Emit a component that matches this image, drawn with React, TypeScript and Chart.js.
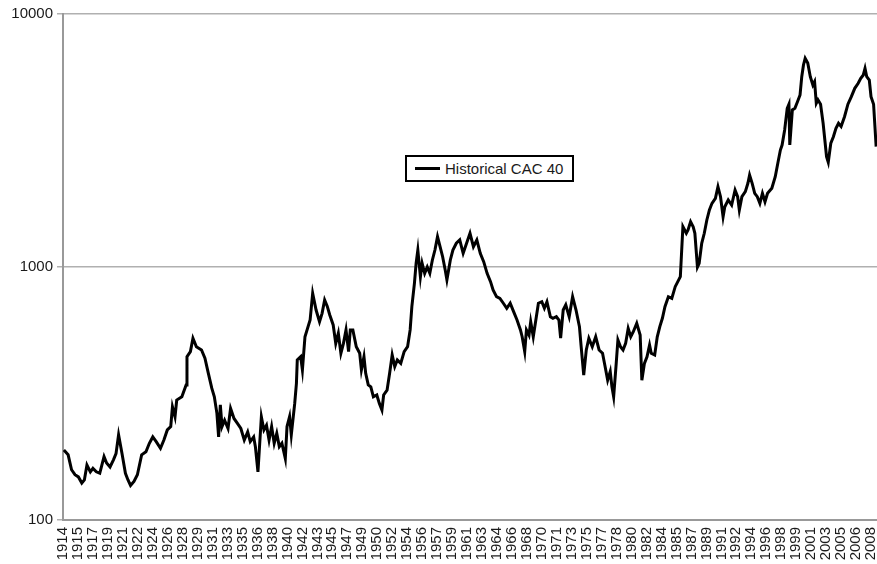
import React, { useEffect, useRef } from "react";
import { Chart, registerables } from "chart.js";

Chart.register(...registerables);

const tickLabels = [
  "1914", "1915", "1917", "1919", "1921", "1922", "1924", "1926", "1928", "1929",
  "1931", "1933", "1935", "1936", "1938", "1940", "1942", "1943", "1945", "1947",
  "1949", "1950", "1952", "1954", "1956", "1957", "1959", "1961", "1963", "1964",
  "1966", "1968", "1970", "1971", "1973", "1975", "1977", "1978", "1980", "1982",
  "1984", "1985", "1987", "1989", "1991", "1992", "1994", "1996", "1998", "1999",
  "2001", "2003", "2005", "2006", "2008",
];
const tickStart = 1914;
const tickStep = 1.75;

const yTicks = [100, 1000, 10000];

const years = [
  1914.1, 1914.6, 1915.0, 1915.4, 1915.8, 1916.2, 1916.5, 1916.8, 1917.2, 1917.5,
  1917.9, 1918.3, 1918.8, 1919.1, 1919.5, 1919.9, 1920.2, 1920.5, 1920.9, 1921.3,
  1921.6, 1921.9, 1922.3, 1922.7, 1923.2, 1923.7, 1924.1, 1924.5, 1924.9, 1925.4,
  1925.8, 1926.2, 1926.6, 1926.8, 1927.1, 1927.3, 1927.9, 1928.4, 1928.5, 1928.9,
  1929.2, 1929.6, 1930.2, 1930.6, 1931.0, 1931.4, 1931.7, 1932.0, 1932.2, 1932.4,
  1932.6, 1932.9, 1933.3, 1933.6, 1934.0, 1934.4, 1934.8, 1935.2, 1935.6, 1935.9,
  1936.3, 1936.5, 1936.8, 1937.2, 1937.5, 1937.8, 1938.1, 1938.4, 1938.7, 1939.0,
  1939.3, 1939.6, 1940.0, 1940.2, 1940.5, 1940.7, 1941.1, 1941.3, 1941.4, 1941.8,
  1942.0, 1942.3, 1942.6, 1942.9, 1943.2, 1943.6, 1944.0, 1944.3, 1944.6, 1944.9,
  1945.2, 1945.6, 1945.9, 1946.2, 1946.5, 1946.8, 1947.1, 1947.4, 1947.6, 1947.9,
  1948.3, 1948.7, 1948.9, 1949.2, 1949.4, 1949.7, 1950.0, 1950.3, 1950.7, 1951.0,
  1951.3, 1951.5, 1951.9, 1952.2, 1952.5, 1952.8, 1953.1, 1953.5, 1953.9, 1954.3,
  1954.6, 1954.8, 1955.1, 1955.3, 1955.5, 1955.8, 1956.0, 1956.3, 1956.6, 1956.9,
  1957.2, 1957.5, 1957.8, 1958.1, 1958.4, 1958.7, 1958.9, 1959.3, 1959.6, 1960.0,
  1960.4, 1960.8, 1961.2, 1961.6, 1962.0, 1962.4, 1962.8, 1963.2, 1963.6, 1964.0,
  1964.3, 1964.7, 1965.1, 1965.5, 1965.9, 1966.3, 1966.7, 1967.1, 1967.5, 1967.7,
  1968.0, 1968.2, 1968.5, 1968.7, 1969.0, 1969.3, 1969.6, 1970.0, 1970.3, 1970.6,
  1971.0, 1971.3, 1971.7, 1972.0, 1972.2, 1972.5, 1972.8, 1973.2, 1973.6, 1974.0,
  1974.4, 1974.6, 1974.9, 1975.2, 1975.5, 1975.9, 1976.3, 1976.7, 1977.1, 1977.4,
  1977.7, 1978.0, 1978.2, 1978.4, 1978.7, 1978.9, 1979.2, 1979.5, 1979.8, 1980.1,
  1980.4, 1980.7, 1981.1, 1981.5, 1981.7, 1982.0, 1982.3, 1982.6, 1982.8, 1983.2,
  1983.5, 1983.8, 1984.1, 1984.4, 1984.8, 1985.2, 1985.6, 1985.8, 1986.2, 1986.3,
  1986.5, 1986.9, 1987.1, 1987.4, 1987.7, 1987.9, 1988.2, 1988.4, 1988.7, 1989.0,
  1989.3, 1989.6, 1989.9, 1990.3, 1990.6, 1990.9, 1991.2, 1991.4, 1991.8, 1992.2,
  1992.6, 1992.9, 1993.1, 1993.4, 1993.8, 1994.1, 1994.3, 1994.6, 1994.9, 1995.2,
  1995.5, 1995.8, 1996.1, 1996.4, 1996.9, 1997.3, 1997.6, 1997.9, 1998.1, 1998.4,
  1998.7, 1998.9, 1999.0, 1999.3, 1999.6, 1999.9, 2000.2, 2000.4, 2000.6, 2000.8,
  2001.1, 2001.4, 2001.7, 2001.9, 2002.1, 2002.3, 2002.6, 2002.9, 2003.1, 2003.3,
  2003.5, 2003.8, 2004.1, 2004.4, 2004.7, 2005.0, 2005.4, 2005.8, 2006.2, 2006.6,
  2007.0, 2007.3, 2007.6, 2007.8, 2008.0, 2008.3, 2008.5, 2008.8, 2009.1,
];

const cac40 = [
  189, 181, 158, 151, 148, 140, 144, 165, 155, 160,
  155, 153, 178, 168, 162, 173, 183, 217, 183, 153,
  144, 137, 142, 151, 181, 186, 201, 213, 204, 192,
  207, 227, 234, 280, 256, 298, 307, 342, 442, 463,
  523, 484, 470, 436, 380, 332, 307, 264, 213, 285,
  234, 248, 230, 276, 252, 241, 230, 207, 223, 204,
  213, 195, 155, 256, 227, 237, 207, 234, 201, 220,
  195, 201, 175, 234, 256, 217, 289, 347, 429, 442,
  392, 530, 572, 617, 787, 676, 608, 656, 741, 700,
  646, 590, 499, 547, 456, 499, 564, 463, 564, 564,
  484, 456, 392, 442, 380, 342, 336, 307, 312, 289,
  272, 312, 326, 380, 449, 404, 429, 416, 463, 484,
  564, 697, 862, 1035, 1167, 916, 1035, 944, 1000, 944,
  1066, 1167, 1318, 1203, 1098, 973, 889, 1066, 1167, 1241,
  1279, 1133, 1241, 1359, 1203, 1279, 1133, 1050, 944, 875,
  811, 763, 752, 719, 687, 719, 666, 617, 564, 530,
  463, 564, 538, 608, 530, 617, 719, 729, 687, 729,
  636, 627, 636, 617, 523, 676, 708, 636, 763, 676,
  581, 484, 374, 470, 523, 484, 530, 470, 456, 404,
  357, 386, 336, 307, 416, 515, 484, 470, 499, 572,
  530, 555, 599, 538, 357, 416, 442, 492, 456, 449,
  530, 581, 627, 697, 763, 752, 836, 862, 916, 1066,
  1443, 1359, 1400, 1511, 1443, 1359, 1000, 1035, 1241, 1359,
  1534, 1680, 1785, 1868, 2077, 1896, 1580, 1731, 1840, 1758,
  2015, 1896, 1680, 1896, 1985, 2142, 2311, 2142, 1955, 1896,
  1785, 1955, 1811, 1955, 2047, 2275, 2570, 2899, 3035, 3481,
  4239, 4400, 3035, 4177, 4239, 4500, 4786, 5652, 6287, 6683,
  6404, 5652, 5240, 5400, 4436, 4578, 4400, 3698, 3177, 2729,
  2593, 3088, 3273, 3533, 3698, 3594, 3926, 4400, 4712, 5085,
  5322, 5568, 5741, 6100, 5652, 5483, 4712, 4400, 2990,
];

const FONT = "'Liberation Sans', Arial, sans-serif";

export default function App() {
  const ref = useRef<HTMLCanvasElement>(null);

  useEffect(() => {
    document.body.style.margin = "0";
    const canvas = ref.current;
    if (!canvas) return;
    const chart = new Chart(canvas, {
      type: "line",
      data: {
        datasets: [
          {
            label: "Historical CAC 40",
            data: years.map((x, i) => ({ x, y: cac40[i] })),
            borderColor: "#000000",
            borderWidth: 3,
            pointRadius: 0,
            tension: 0,
            fill: false,
          },
        ],
      },
      options: {
        responsive: false,
        animation: false,
        layout: { padding: { top: 14, right: 0, left: 0, bottom: 0 } },
        plugins: {
          legend: { display: false },
          tooltip: { enabled: false },
        },
        scales: {
          x: {
            type: "linear",
            min: 1914,
            max: 2009.2,
            afterBuildTicks: (s: any) => {
              s.ticks = tickLabels.map((_, i) => ({ value: tickStart + i * tickStep }));
            },
            afterFit: (s: any) => {
              s.height = 44;
              s.paddingLeft = 0;
              s.paddingRight = 0;
            },
            ticks: {
              autoSkip: false,
              maxRotation: 90,
              minRotation: 90,
              padding: 7,
              color: "#1a1a1a",
              font: { family: FONT, size: 15 },
              callback: (_v: any, i: number) => tickLabels[i],
            },
            grid: { drawOnChartArea: false, drawTicks: false },
            border: { color: "#999", width: 2 },
          },
          y: {
            type: "logarithmic",
            min: 100,
            max: 10000,
            afterBuildTicks: (s: any) => {
              s.ticks = yTicks.map((v) => ({ value: v }));
            },
            afterFit: (s: any) => {
              s.width = 63;
            },
            ticks: {
              padding: 4,
              color: "#1a1a1a",
              font: { family: FONT, size: 15 },
              callback: (v: any) => String(v),
            },
            grid: { color: "#b0b0b0", lineWidth: 1.5, tickLength: 6 },
            border: { color: "#999", width: 2 },
          },
        },
      },
    });
    return () => chart.destroy();
  }, []);

  return (
    <div style={{ position: "relative", width: 877, height: 564 }}>
      <canvas ref={ref} width={877} height={564} style={{ display: "block" }} />
      <div
        style={{
          position: "absolute",
          left: 405,
          top: 155,
          width: 165,
          height: 23,
          border: "2px solid #000",
          background: "#fff",
          display: "flex",
          alignItems: "center",
          fontFamily: FONT,
          fontSize: 15,
          color: "#1a1a1a",
          whiteSpace: "nowrap",
        }}
      >
        <span
          style={{
            display: "inline-block",
            width: 25,
            height: 2.6,
            background: "#000",
            marginLeft: 8,
            marginRight: 5,
          }}
        />
        <span>Historical CAC 40</span>
      </div>
    </div>
  );
}
